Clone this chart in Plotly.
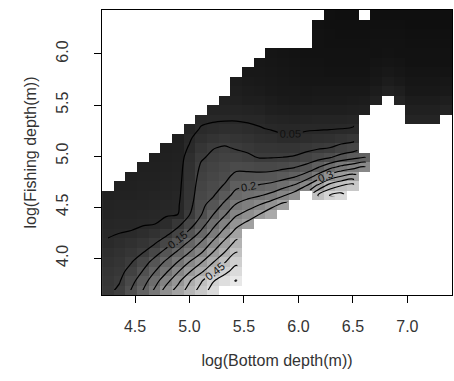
import plotly.graph_objects as go

# grid centres (model prediction grid)
x_grid = [4.251, 4.358, 4.465, 4.572, 4.679, 4.786, 4.893, 5.000, 5.107, 5.214,
          5.322, 5.429, 5.536, 5.643, 5.750, 5.857, 5.964, 6.071, 6.178, 6.285,
          6.392, 6.500, 6.607, 6.714, 6.821, 6.928, 7.035, 7.142, 7.249, 7.356]
y_grid = [3.687, 3.780, 3.873, 3.966, 4.059, 4.152, 4.245, 4.338, 4.431, 4.524,
          4.617, 4.710, 4.803, 4.896, 4.989, 5.082, 5.175, 5.268, 5.361, 5.454,
          5.547, 5.640, 5.733, 5.826, 5.919, 6.012, 6.105, 6.198, 6.291, 6.384]

# predicted values (x 1000) per column, "start_row: values" ; missing = too far from data
columns = [
    "0: 90 85 78 70 62 53 47 42 40 38 36",
    "0: 108 97 88 80 70 60 50 44 41 39 37 36",
    "0: 152 134 114 97 81 67 52 45 41 39 37 36 35",
    "0: 200 178 152 126 98 80 60 47 43 40 38 37 36 35",
    "0: 256 228 197 167 129 95 70 49 45 41 39 37 36 35 34",
    "0: 320 283 242 208 167 127 88 59 47 43 40 38 37 36 35 34",
    "0: 370 335 295 250 208 165 121 86 50 45 42 40 38 37 36 35 34",
    "0: 420 395 345 300 250 209 164 127 98 85 78 75 72 68 62 53 46 40",
    "0: 470 444 390 345 295 255 212 175 147 139 130 122 114 106 95 81 66 52 45",
    "0: 520 495 440 395 350 309 267 232 197 167 145 136 126 118 108 98 77 58 46 40",
    "1: 527 486 445 400 363 321 283 243 211 179 153 139 128 115 104 83 62 47 40 36",
    "1: 553 520 488 450 413 371 333 292 254 218 189 161 139 116 96 79 63 47 40 35 32 30",
    "7: 364 318 277 233 197 163 136 108 90 73 58 45 38 33 30 28 26",
    "8: 350 300 245 205 165 131 97 82 66 52 44 37 32 29 27 25 24",
    "8: 388 329 263 215 168 132 98 81 62 48 40 34 30 27 25 24 23 22",
    "9: 364 293 233 180 138 100 79 55 45 38 32 28 26 24 23 22 21",
    "10: 325 257 194 146 104 80 55 44 37 31 27 25 23 22 21 20",
    "11: 300 221 163 117 87 61 46 38 32 27 24 22 21 20 19",
    "10: 450 360 267 193 132 94 65 47 39 33 28 25 22 21 20 19 18 18 17",
    "10: 500 420 320 230 145 100 69 48 39 33 28 25 22 20 19 18 17 17 16 16",
    "10: 517 450 350 260 167 115 77 50 40 33 28 25 22 20 19 18 17 16 16 15",
    "11: 470 370 280 183 125 83 52 41 34 29 25 22 20 19 18 17 16 16 15",
    "13: 300 200; 19: 35 30 25 22 20 19 18 17 16 16",
    "20: 36 30 26 23 21 19 18 17 16 15",
    "21: 36 30 25 22 20 18 17 16 15",
    "20: 38 32 27 23 21 19 18 17 16 15",
    "18: 40 35 30 26 23 21 19 18 17 16 15 15",
    "18: 40 35 30 26 23 21 19 18 17 16 15 15",
    "18: 40 35 30 26 23 21 19 18 17 16 15 15",
    "19: 38 32 27 24 21 19 18 17 16 15 15",
]

x_ticks = [4.5, 5.0, 5.5, 6.0, 6.5, 7.0]
y_ticks = [4.0, 4.5, 5.0, 5.5, 6.0]
levels = dict(start=0.05, end=0.55, size=0.05)


def parse(spec, n):
    col = [None] * n
    for seg in spec.split(";"):
        start, vals = seg.split(":")
        s = int(start)
        for i, v in enumerate(vals.split()):
            col[s + i] = int(v) / 1000.0
    return col


ny = len(y_grid)
cols = [parse(s, ny) for s in columns]
z = [[cols[c][r] for c in range(len(x_grid))] for r in range(ny)]
mask = [[1 if z[r][c] is None else None for c in range(len(x_grid))] for r in range(ny)]

font = "Liberation Sans, Arial, sans-serif"

fig = go.Figure()
fig.add_trace(go.Heatmap(
    x=x_grid, y=y_grid, z=z,
    colorscale=[[0, "#0f0f0f"], [0.05, "#262626"], [1, "#e8e8e8"]],
    showscale=False, zsmooth=False, hoverongaps=False))
fig.add_trace(go.Contour(
    x=x_grid, y=y_grid, z=z,
    contours=dict(**levels, coloring="lines", showlabels=True,
                  labelfont=dict(size=11, color="#111", family=font),
                  labelformat=".2~f"),
    colorscale=[[0, "black"], [1, "black"]],
    line=dict(width=1.2), showscale=False, hoverinfo="skip"))
fig.add_trace(go.Heatmap(
    x=x_grid, y=y_grid, z=mask, zmin=0, zmax=1,
    colorscale=[[0, "white"], [1, "white"]],
    showscale=False, hoverinfo="skip"))

axis_common = dict(
    showline=True, mirror=True, linecolor="black", linewidth=1,
    ticks="outside", ticklen=7, tickcolor="black", tickwidth=1,
    showgrid=False, zeroline=False,
    tickfont=dict(size=16, color="#333", family=font),
)

fig.update_layout(
    width=454, height=381,
    margin=dict(l=102, r=2, t=10, b=86),
    paper_bgcolor="white", plot_bgcolor="white",
    showlegend=False,
    xaxis=dict(range=[4.197, 7.4095], tickvals=x_ticks,
               ticktext=[f"{v:.1f}" for v in x_ticks],
               ticklabelstandoff=10,
               title=dict(text="log(Bottom depth(m))",
                          font=dict(size=16, color="#333", family=font),
                          standoff=20),
               **axis_common),
    yaxis=dict(range=[3.6405, 6.4305], tickvals=y_ticks,
               ticktext=[f"{v:.1f}" for v in y_ticks],
               tickangle=-90, ticklabelstandoff=20,
               title=dict(text="log(Fishing depth(m))",
                          font=dict(size=16, color="#333", family=font),
                          standoff=12),
               **axis_common),
)

fig.write_html("out.html")
